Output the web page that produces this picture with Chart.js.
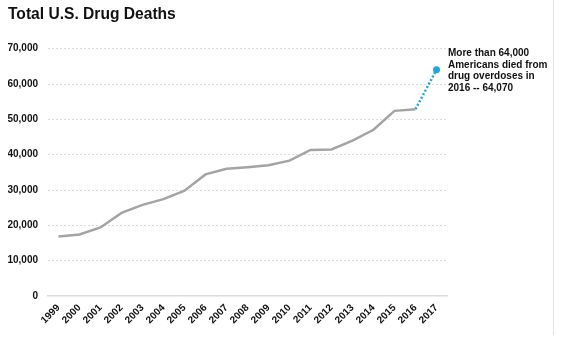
<!DOCTYPE html>
<html>
<head>
<meta charset="utf-8">
<title>Total U.S. Drug Deaths</title>
<script src="https://cdn.jsdelivr.net/npm/chart.js@4/dist/chart.umd.min.js"></script>
<style>
  html, body { margin: 0; padding: 0; background: #fff; }
  #wrap { position: relative; width: 561px; height: 342px; }
</style>
</head>
<body>
<div id="wrap">
  <canvas id="deaths" width="561" height="342"></canvas>
</div>
<script>
const years = ['1999', '2000', '2001', '2002', '2003', '2004', '2005', '2006', '2007', '2008',
  '2009', '2010', '2011', '2012', '2013', '2014', '2015', '2016', '2017'];

// yearly overdose deaths (solid gray line)
const totalDeaths = [16849, 17415, 19394, 23518, 25785, 27424, 29813, 34425, 36010, 36450,
  37004, 38329, 41340, 41502, 43982, 47055, 52404, 52898, null];

// latest estimate, joined to the last reported year (dotted blue line)
const latestDeaths = [null, null, null, null, null, null, null, null, null, null,
  null, null, null, null, null, null, null, 52898, 64070];

const yTicks = [0, 10000, 20000, 30000, 40000, 50000, 60000, 70000];

const noteLines = ['More than 64,000', 'Americans died from', 'drug overdoses in', '2016 -- 64,070'];

const FONT = "'Liberation Sans', Arial, Helvetica, sans-serif";
const GRAY = '#a4a4a4';
const BLUE = '#1ea6e3';
const GRID = '#dcdcdc';

// note text to the right of the plot, plus the thin frame line at the edge
const notePlugin = {
  id: 'note',
  afterDraw(chart) {
    const ctx = chart.ctx;
    const x = chart.chartArea.right + 1;
    ctx.save();
    ctx.fillStyle = '#111';
    ctx.font = 'bold 10px ' + FONT;
    ctx.textBaseline = 'alphabetic';
    ctx.textAlign = 'left';
    noteLines.forEach((line, i) => {
      ctx.fillText(line, x, 56 + i * 11.5);
    });
    ctx.strokeStyle = '#e4e4e4';
    ctx.lineWidth = 1;
    ctx.beginPath();
    ctx.moveTo(553.5, 0);
    ctx.lineTo(553.5, 335);
    ctx.stroke();
    ctx.restore();
  }
};

new Chart(document.getElementById('deaths').getContext('2d'), {
  type: 'line',
  data: {
    labels: years,
    datasets: [{
      label: 'Total deaths',
      data: totalDeaths,
      borderColor: GRAY,
      borderWidth: 2.5,
      pointRadius: 0,
      tension: 0,
      fill: false
    }, {
      label: 'Latest',
      data: latestDeaths,
      borderColor: BLUE,
      backgroundColor: BLUE,
      borderWidth: 2.5,
      borderDash: [2, 2],
      pointRadius: ctx => ctx.dataIndex === years.length - 1 ? 3.5 : 0,
      pointBorderWidth: 0,
      tension: 0,
      fill: false
    }]
  },
  options: {
    responsive: false,
    animation: false,
    devicePixelRatio: 1,
    layout: { padding: { left: 8, right: 114, top: 0, bottom: 0 } },
    plugins: {
      legend: { display: false },
      tooltip: { enabled: false },
      title: {
        display: true,
        text: 'Total U.S. Drug Deaths',
        align: 'start',
        color: '#111',
        font: { family: FONT, size: 15.6, weight: 'bold', lineHeight: 1.2 },
        padding: { top: 5, bottom: 25 }
      }
    },
    scales: {
      x: {
        offset: true,
        grid: { display: true, drawOnChartArea: false, drawTicks: false },
        border: { display: true, color: GRID, width: 1.5 },
        ticks: {
          autoSkip: false,
          minRotation: 45,
          maxRotation: 45,
          padding: 6,
          color: '#111',
          font: { family: FONT, size: 10, weight: 'bold' }
        },
        afterFit(scale) { scale.height = 46; }
      },
      y: {
        min: 0,
        max: 70000,
        afterBuildTicks(scale) {
          scale.ticks = yTicks.map(v => ({ value: v }));
        },
        grid: {
          drawTicks: false,
          lineWidth: 1,
          color: ctx => ctx.tick && ctx.tick.value === 0 ? 'rgba(0,0,0,0)' : GRID
        },
        border: { display: false, dash: [2, 2] },
        ticks: {
          padding: 10,
          color: '#111',
          font: { family: FONT, size: 10, weight: 'bold' },
          callback: v => v.toLocaleString('en-US')
        },
        afterFit(scale) { scale.width = 40; }
      }
    }
  },
  plugins: [notePlugin]
});
</script>
</body>
</html>
